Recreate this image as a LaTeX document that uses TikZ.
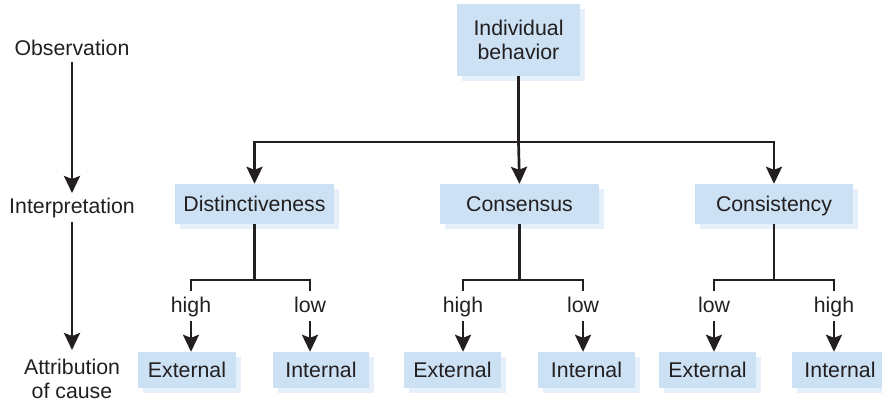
\documentclass[tikz,border=0pt]{standalone}
\usepackage{fontspec}
\setmainfont{Liberation Sans}
\usetikzlibrary{arrows.meta,shadows}
\definecolor{boxblue}{RGB}{204,225,243}
\definecolor{shadblue}{RGB}{230,240,250}
\definecolor{ink}{RGB}{35,31,32}
\begin{document}
\begin{tikzpicture}[x=1pt,y=-1pt,
  txt/.style={inner sep=0pt, align=center, text=ink, font=\fontsize{21.3}{24}\selectfont},
  one/.style={txt, text height=15.2pt, text depth=0pt},
  box/.style={fill=boxblue, general shadow={fill=shadblue, shadow xshift=5pt, shadow yshift=-5pt}},
  mid/.style={one, box, minimum width=159pt, minimum height=40pt},
  leaf/.style={one, box, minimum width=97pt, minimum height=36pt},
  conn/.style={draw=ink, line width=2.7pt},
  arr/.style={conn, -{Stealth[length=17pt,width=16pt,inset=3pt]}}]
\useasboundingbox (0,0) rectangle (882,403);

% left column
\node[one] (obs) at (72,47.5) {Observation};
\node[one] (intp) at (72,206) {Interpretation};
\node[txt] (attr) at (72,378.5) {Attribution\\of cause};
\coordinate (o1) at (72,62);
\coordinate (o2) at (72,193);
\coordinate (i1) at (72,222);
\coordinate (i2) at (72,350);
\draw[arr] (o1) -- (o2);
\draw[arr] (i1) -- (i2);

% top
\node[txt, box, minimum width=123pt, minimum height=72pt] (ib) at (518.5,40) {Individual\\behavior};
\node[mid] (dist) at (254.5,204) {Distinctiveness};
\node[mid] (cons) at (519.5,204) {Consensus};
\node[mid, minimum width=158pt] (cnst) at (774,204) {Consistency};
\coordinate (j0) at (518.5,142);
\draw[conn] (ib.south) -- (j0);
\draw[arr, line join=miter] (j0) -| (dist.north);
\draw[arr, line join=miter] (j0) -| (cnst.north);
\draw[arr] (j0) -- (cons.north);

% leaves
\node[leaf, minimum width=98pt] (de) at (187,370) {External};
\node[leaf, minimum width=96pt] (di) at (321,370) {Internal};
\node[leaf] (ce) at (452.5,370) {External};
\node[leaf] (ci) at (586.5,370) {Internal};
\node[leaf] (ke) at (707.5,370) {External};
\node[leaf, minimum width=96pt] (ki) at (840,370) {Internal};

% distinctiveness bracket
\coordinate (d0) at (254.5,280);
\coordinate (dl) at (191,291);
\coordinate (dr) at (310,291);
\draw[conn] (dist.south) -- (d0);
\draw[conn, line join=miter] (dl) |- (d0) -| (dr);
\node[one] (dh) at (191,304.5) {high};
\node[one] (dw) at (310,304.5) {low};
\coordinate (da) at (191,321);
\coordinate (db) at (310,321);
\draw[arr] (da) -- (da |- de.north);
\draw[arr] (db) -- (db |- di.north);

% consensus bracket
\coordinate (c0) at (519.5,280);
\coordinate (cl) at (463,291);
\coordinate (cr) at (583,291);
\draw[conn] (cons.south) -- (c0);
\draw[conn, line join=miter] (cl) |- (c0) -| (cr);
\node[one] (ch) at (463,304.5) {high};
\node[one] (cw) at (583,304.5) {low};
\coordinate (ca) at (463,321);
\coordinate (cb) at (583,321);
\draw[arr] (ca) -- (ca |- ce.north);
\draw[arr] (cb) -- (cb |- ci.north);

% consistency bracket
\coordinate (k0) at (774,280);
\coordinate (kl) at (714,291);
\coordinate (kr) at (834,291);
\draw[conn] (cnst.south) -- (k0);
\draw[conn, line join=miter] (kl) |- (k0) -| (kr);
\node[one] (kw) at (714,304.5) {low};
\node[one] (kh) at (834,304.5) {high};
\coordinate (ka) at (714,321);
\coordinate (kb) at (834,321);
\draw[arr] (ka) -- (ka |- ke.north);
\draw[arr] (kb) -- (kb |- ki.north);
\end{tikzpicture}
\end{document}
